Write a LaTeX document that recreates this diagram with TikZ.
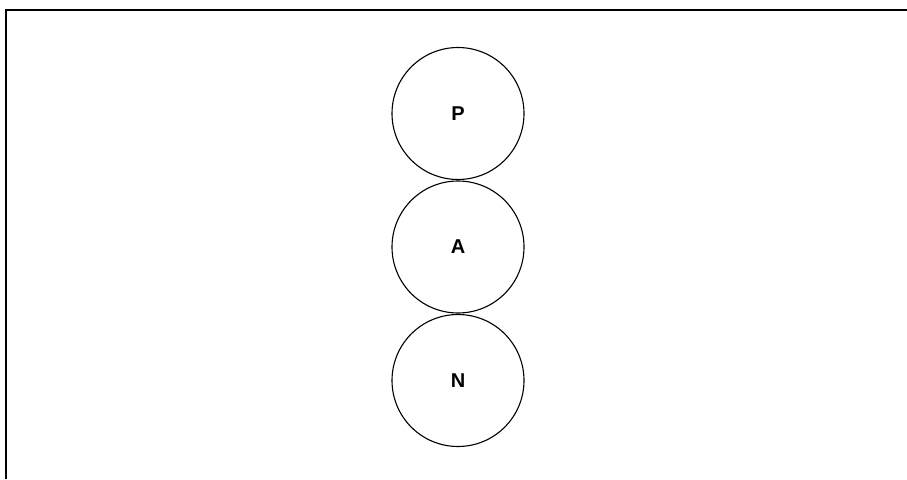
\documentclass[tikz,border=0pt]{standalone}
\usepackage{fontspec}
\setmainfont{Liberation Sans}
\begin{document}
\begin{tikzpicture}[x=1pt,y=-1pt,
  ball/.style={draw,circle,line width=1.1pt,minimum size=132pt,inner sep=0pt,font=\fontsize{20}{20}\selectfont\bfseries},
  frame/.style={line width=1.6pt}]
\useasboundingbox (0,0) rectangle (907,479);
\coordinate (tl) at (6,10);
\coordinate (tr) at (907,10);
\coordinate (bl) at (6,479);
\draw[frame] (tr) -- (tl) -- (bl);
\node[ball] (P) at (458,113.5) {P};
\node[ball] (A) at (458,247) {A};
\node[ball] (N) at (458,380.5) {N};
\end{tikzpicture}
\end{document}
